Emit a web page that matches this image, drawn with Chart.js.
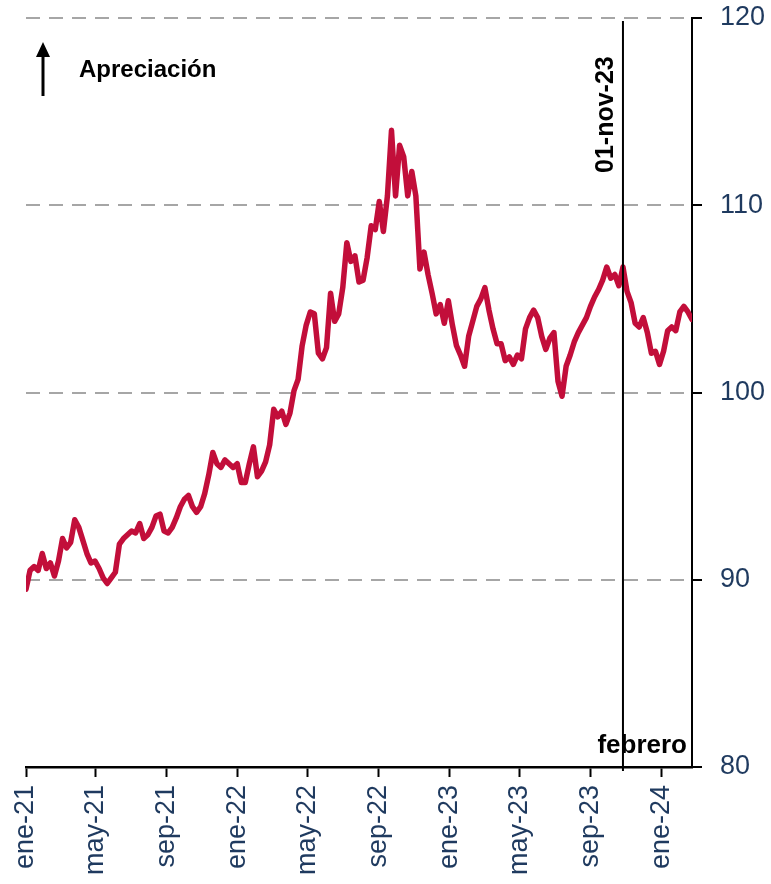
<!DOCTYPE html>
<html>
<head>
<meta charset="utf-8">
<script src="https://cdn.jsdelivr.net/npm/chart.js"></script>
<style>
  body { margin: 0; background: #fff; }
  canvas { display: block; }
</style>
</head>
<body>
<canvas id="tcr" width="771" height="884"></canvas>
<script>
// Serie semanal desde el 1 de enero de 2021
const fechaInicio = '2021-01-01';
const pasoDias = 7;
const valores = [
    89.5, 90.5, 90.7, 90.5, 91.4, 90.6, 90.9, 90.2, 91.0, 92.2,
    91.7, 92.0, 93.2, 92.8, 92.1, 91.4, 90.9, 91.0, 90.6, 90.1,
    89.8, 90.1, 90.4, 91.9, 92.2, 92.4, 92.6, 92.5, 93.0, 92.2,
    92.4, 92.8, 93.4, 93.5, 92.6, 92.5, 92.8, 93.3, 93.9, 94.3,
    94.5, 93.9, 93.6, 93.9, 94.6, 95.6, 96.8, 96.2, 96.0, 96.4,
    96.2, 96.0, 96.2, 95.2, 95.2, 96.2, 97.1, 95.5, 95.8, 96.3,
    97.2, 99.1, 98.7, 99.0, 98.3, 98.9, 100.1, 100.7, 102.5, 103.6,
    104.3, 104.2, 102.1, 101.8, 102.4, 105.3, 103.8, 104.2, 105.6, 108.0,
    107.0, 107.3, 105.9, 106.0, 107.2, 108.9, 108.7, 110.2, 108.6, 110.5,
    114.0, 110.5, 113.2, 112.6, 110.5, 111.8, 110.5, 106.6, 107.5, 106.3,
    105.3, 104.2, 104.7, 103.7, 104.9, 103.6, 102.5, 102.0, 101.4, 103.0,
    103.8, 104.6, 105.0, 105.6, 104.4, 103.4, 102.6, 102.6, 101.7, 101.9,
    101.5, 102.0, 101.8, 103.4, 104.0, 104.4, 104.0, 103.0, 102.3, 102.9,
    103.2, 100.6, 99.8, 101.4, 102.0, 102.7, 103.2, 103.6, 104.0, 104.6,
    105.1, 105.5, 106.0, 106.7, 106.1, 106.3, 105.7, 106.7, 105.4, 104.8,
    103.7, 103.5, 104.0, 103.2, 102.1, 102.2, 101.5, 102.2, 103.3, 103.5,
    103.3, 104.3, 104.6, 104.3, 103.9
];

// Eje x
const fechasTicks = ['2021-01-01', '2021-05-01', '2021-09-01', '2022-01-01', '2022-05-01',
    '2022-09-01', '2023-01-01', '2023-05-01', '2023-09-01', '2024-01-01'];
const etiquetasTicks = ['ene-21', 'may-21', 'sep-21', 'ene-22', 'may-22',
    'sep-22', 'ene-23', 'may-23', 'sep-23', 'ene-24'];
const fechaFin = '2024-02-23';
const fechaCorte = '2023-10-27';
const textoCorte = '01-nov-23';
const textoFin = 'febrero';
const textoFlecha = 'Apreciación';

const yMin = 80, yMax = 120, yPaso = 10;

function dias(f) {
    return (Date.parse(f) - Date.parse(fechaInicio)) / 86400000;
}

const puntos = valores.map((v, i) => ({ x: i * pasoDias, y: v }));
const fuente = "'Liberation Sans', Arial, sans-serif";
const azul = '#1F3A5F';

// anotaciones: linea vertical, textos y flecha
const anotaciones = {
    id: 'anotaciones',
    afterDatasetsDraw(chart) {
        const ctx = chart.ctx;
        const area = chart.chartArea;
        const xs = chart.scales.x;
        const xc = xs.getPixelForValue(dias(fechaCorte));

        ctx.save();
        ctx.strokeStyle = '#000';
        ctx.lineWidth = 2;
        ctx.beginPath();
        ctx.moveTo(xc, area.top + 3);
        ctx.lineTo(xc, area.bottom + 4);
        ctx.stroke();

        // 01-nov-23 vertical
        ctx.fillStyle = '#000';
        ctx.font = 'bold 25px ' + fuente;
        ctx.save();
        ctx.translate(xc - 10, area.top + 155);
        ctx.rotate(-Math.PI / 2);
        ctx.textAlign = 'left';
        ctx.textBaseline = 'alphabetic';
        ctx.fillText(textoCorte, 0, 0);
        ctx.restore();

        // febrero
        ctx.font = 'bold 26px ' + fuente;
        ctx.textAlign = 'right';
        ctx.fillText(textoFin, area.right - 5, area.bottom - 14);

        // Apreciación con flecha
        ctx.font = 'bold 24px ' + fuente;
        ctx.textAlign = 'left';
        ctx.fillText(textoFlecha, area.left + 53, area.top + 59);

        const ax = area.left + 17;
        ctx.lineWidth = 3;
        ctx.beginPath();
        ctx.moveTo(ax, area.top + 78);
        ctx.lineTo(ax, area.top + 36);
        ctx.stroke();
        ctx.beginPath();
        ctx.moveTo(ax, area.top + 24);
        ctx.lineTo(ax - 7, area.top + 39);
        ctx.lineTo(ax + 7, area.top + 39);
        ctx.closePath();
        ctx.fill();
        ctx.restore();
    }
};

new Chart(document.getElementById('tcr'), {
    type: 'line',
    data: {
        datasets: [{
            data: puntos,
            borderColor: '#C20E3A',
            borderWidth: 5.5,
            pointRadius: 0,
            tension: 0,
            borderJoinStyle: 'round',
            borderCapStyle: 'round'
        }]
    },
    options: {
        responsive: false,
        animation: false,
        layout: { padding: { left: 26, top: 18, right: 0, bottom: 0 } },
        plugins: {
            legend: { display: false },
            tooltip: { enabled: false }
        },
        scales: {
            x: {
                type: 'linear',
                min: 0,
                max: dias(fechaFin),
                afterBuildTicks: s => { s.ticks = fechasTicks.map(f => ({ value: dias(f) })); },
                afterFit: s => { s.height = 117; },
                ticks: {
                    autoSkip: false,
                    minRotation: 90,
                    maxRotation: 90,
                    padding: 8,
                    color: azul,
                    font: { family: fuente, size: 27 },
                    callback: (v, i) => etiquetasTicks[i]
                },
                grid: {
                    drawOnChartArea: false,
                    tickLength: 10,
                    tickColor: '#000',
                    tickWidth: 2
                },
                border: { color: '#000', width: 2.5 }
            },
            y: {
                position: 'right',
                min: yMin,
                max: yMax,
                afterFit: s => {
                    s.width = 79;
                    s.paddingTop = 0;
                    s.paddingBottom = 0;
                },
                ticks: {
                    stepSize: yPaso,
                    padding: 18,
                    color: azul,
                    font: { family: fuente, size: 27 }
                },
                grid: {
                    color: '#A6A6A6',
                    lineWidth: 2,
                    tickLength: 10,
                    tickColor: '#000',
                    tickWidth: 2,
                    tickBorderDash: [1, 0]
                },
                border: { color: '#000', width: 2, dash: [14, 9] }
            }
        }
    },
    plugins: [anotaciones]
});
</script>
</body>
</html>
